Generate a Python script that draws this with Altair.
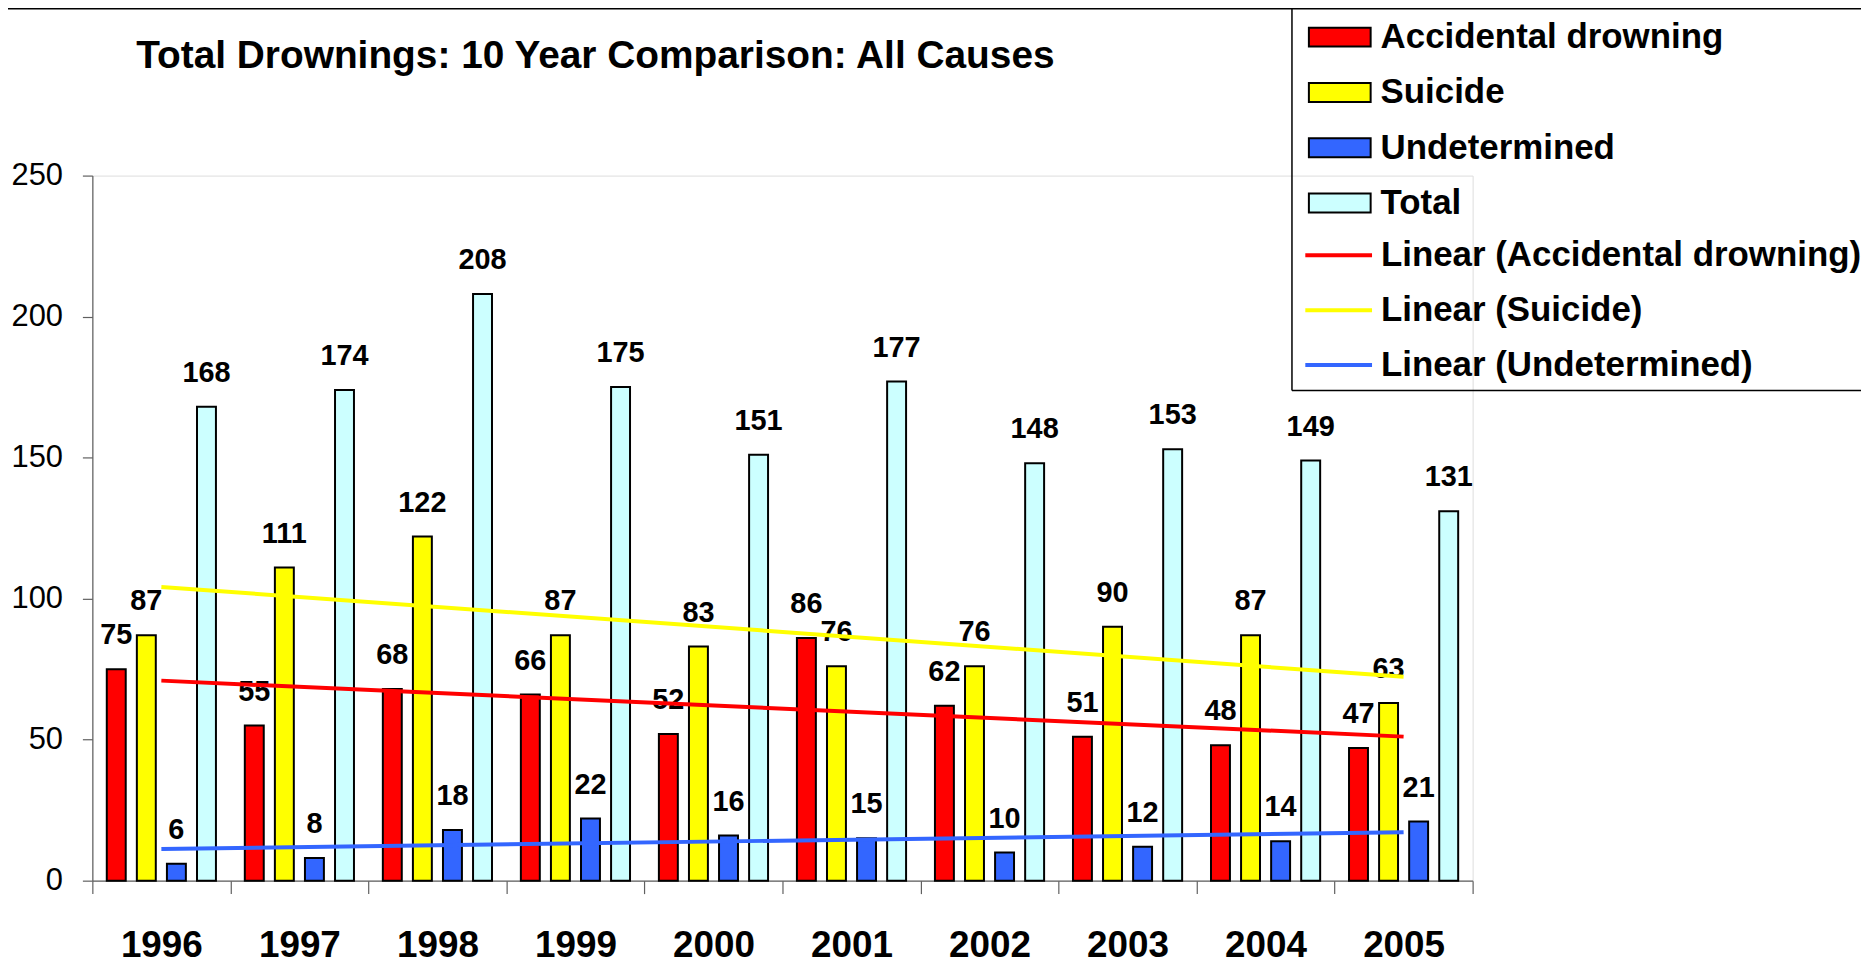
import altair as alt
import pandas as pd

years = [1996, 1997, 1998, 1999, 2000, 2001, 2002, 2003, 2004, 2005]
accidental = [75, 55, 68, 66, 52, 86, 62, 51, 48, 47]
suicide = [87, 111, 122, 87, 83, 76, 76, 90, 87, 63]
undetermined = [6, 8, 18, 22, 16, 15, 10, 12, 14, 21]
total = [168, 174, 208, 175, 151, 177, 148, 153, 149, 131]

series_names = ["Accidental drowning", "Suicide", "Undetermined", "Total"]
series_colors = ["#FF0000", "#FFFF00", "#3366FF", "#CCFFFF"]
trend_names = ["Linear (Accidental drowning)", "Linear (Suicide)", "Linear (Undetermined)"]
trend_colors = ["#FF0000", "#FFFF00", "#3366FF"]
title_text = "Total Drownings: 10 Year Comparison: All Causes"
y_ticks = [0, 50, 100, 150, 200, 250]

FONT = "Liberation Sans"

rows = []
for name, vals in zip(series_names, [accidental, suicide, undetermined, total]):
    for yr, v in zip(years, vals):
        rows.append({"Year": yr, "Series": name, "Value": v})
df = pd.DataFrame(rows)

W, H = 1386, 708

y_enc = alt.Y(
    "Value:Q",
    scale=alt.Scale(domain=[0, 250], nice=False),
    axis=alt.Axis(
        values=y_ticks, title=None, grid=False, tickSize=10, labelPadding=20,
        labelFont=FONT, labelFontSize=31, labelColor="black",
        domainColor="#606060", tickColor="#606060", domainWidth=1.2, tickWidth=1.2,
    ),
)

x_enc = alt.X(
    "Year:O",
    scale=alt.Scale(paddingInner=0, paddingOuter=0),
    axis=alt.Axis(
        title=None, labelAngle=0, tickBand="extent", tickSize=13, labelPadding=34,
        labelFont=FONT, labelFontSize=37, labelFontWeight="bold", labelColor="black",
        domainColor="#606060", tickColor="#606060", domainWidth=1.2, tickWidth=1.2,
        labelBaseline="top",
    ),
)
xoff_enc = alt.XOffset(
    "Series:N", sort=series_names,
    scale=alt.Scale(domain=series_names, paddingInner=0.37, paddingOuter=0.48),
)

base = alt.Chart(df)

bars = base.mark_bar(stroke="black", strokeWidth=2).encode(
    x=x_enc,
    xOffset=xoff_enc,
    y=y_enc,
    fill=alt.Fill(
        "Series:N",
        scale=alt.Scale(domain=series_names, range=series_colors),
        legend=alt.Legend(
            title=None, orient="none", legendX=1220.6, legendY=-171,
            symbolType="M-1,-0.306H1V0.306H-1Z", symbolSize=3844,
            symbolStrokeColor="black", symbolStrokeWidth=2, symbolOpacity=1,
            labelFont=FONT, labelFontSize=35, labelFontWeight="bold", labelColor="black",
            labelOffset=9, rowPadding=5.5, padding=0, labelLimit=600,
        ),
    ),
)

labels = base.mark_text(
    baseline="alphabetic", dy=-25, font=FONT, fontSize=29, fontWeight="bold", color="black"
).encode(
    x=alt.X("Year:O", scale=alt.Scale(paddingInner=0, paddingOuter=0), axis=None),
    xOffset=xoff_enc,
    y=y_enc,
    text=alt.Text("Value:Q"),
)

trend = base.transform_filter(
    "datum.Series != 'Total'"
).transform_regression(
    "Year", "Value", groupby=["Series"], method="linear"
).transform_calculate(
    Trend="'Linear (' + datum.Series + ')'"
).mark_line(strokeWidth=4).encode(
    x=alt.X("Year:Q", scale=alt.Scale(domain=[1995.5, 2005.5], nice=False, zero=False), axis=None),
    y=y_enc,
    stroke=alt.Stroke(
        "Trend:N",
        scale=alt.Scale(domain=trend_names, range=trend_colors),
        legend=alt.Legend(
            title=None, orient="none", legendX=1216, legendY=44.4,
            symbolType="stroke", symbolSize=4489, symbolStrokeWidth=4,
            labelFont=FONT, labelFontSize=35, labelFontWeight="bold", labelColor="black",
            labelOffset=7, rowPadding=1.2, padding=0, labelLimit=600,
        ),
    ),
    detail="Series:N",
)

title = alt.Chart(pd.DataFrame({"t": [title_text]})).mark_text(
    align="left", baseline="alphabetic", font=FONT, fontSize=39, fontWeight="bold", color="black"
).encode(x=alt.value(44), y=alt.value(-107.6), text="t:N")

frame = pd.DataFrame({"b": [1]})
# chart-area top border (runs across the whole width, also top of legend box)
top_line = alt.Chart(frame).mark_rule(color="black", strokeWidth=1.5).encode(
    x=alt.value(-100), x2=alt.value(1900), y=alt.value(-167.6)
)
# legend box left and bottom borders
legend_left = alt.Chart(frame).mark_rule(color="black", strokeWidth=1.5).encode(
    x=alt.value(1204.6), y=alt.value(-167.6), y2=alt.value(215.7)
)
legend_bottom = alt.Chart(frame).mark_rule(color="black", strokeWidth=1.5).encode(
    x=alt.value(1204.6), x2=alt.value(1900), y=alt.value(215.7)
)

chart = alt.layer(bars, labels, trend, title, top_line, legend_left, legend_bottom).resolve_scale(
    x="independent"
).properties(
    width=W, height=H,
    autosize=alt.AutoSizeParams(type="none"),
    padding={"left": 84.7, "top": 166.3, "right": 390, "bottom": 84},
).configure_view(stroke=None).configure(background="white")

chart.save("out.html", embed_options={"renderer": "svg", "actions": False})
